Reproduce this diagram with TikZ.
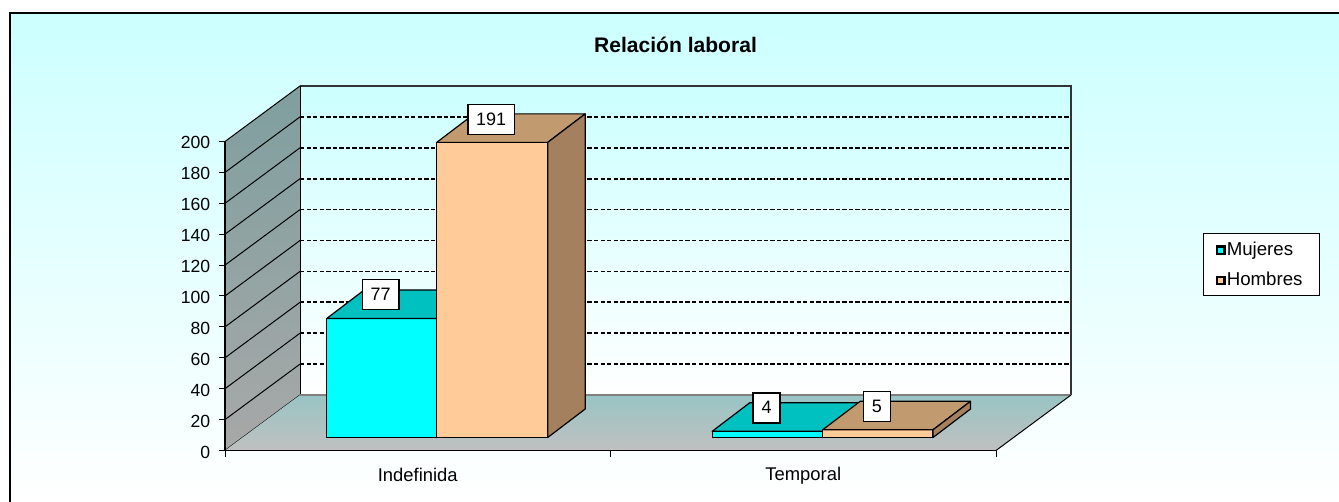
\documentclass[tikz,border=0pt]{standalone}
\usepackage{fontspec}
\setmainfont{Liberation Sans}
\definecolor{bgtop}{HTML}{CCFFFF}
\definecolor{lwtop}{HTML}{7F9F9F}
\definecolor{lwbot}{HTML}{A8A8A8}
\definecolor{flback}{HTML}{99C4C4}
\definecolor{flfront}{HTML}{C0C0C0}
\definecolor{mujfront}{HTML}{00FFFF}
\definecolor{mujtop}{HTML}{00C0C0}
\definecolor{mujside}{HTML}{009999}
\definecolor{homfront}{HTML}{FFCC99}
\definecolor{homtop}{HTML}{C19A70}
\definecolor{homside}{HTML}{A5805F}
\definecolor{walledge}{HTML}{333333}
\newcommand{\barthreed}[7]{%
  \pgfmathsetmacro\bartopy{#3-#4}%
  \filldraw[fill=#5, barline] (#1,#3) rectangle (#2,\bartopy);
  \filldraw[fill=#6, barline] (#1,\bartopy) -- (#1+37.5,\bartopy-28.5) -- (#2+37.5,\bartopy-28.5) -- (#2,\bartopy) -- cycle;
  \filldraw[fill=#7, barline] (#2,#3) -- (#2+37.5,#3-28.5) -- (#2+37.5,\bartopy-28.5) -- (#2,\bartopy) -- cycle;
}
\begin{document}
\begin{tikzpicture}[x=0.75pt,y=-0.75pt,
  barline/.style={draw=black, line width=0.9pt, line join=round},
  gridline/.style={black, line width=1.25pt, dash pattern=on 3.3pt off 1.6pt},
  thinline/.style={black, line width=0.75pt},
  axisline/.style={black, line width=1.2pt},
  axislabel/.style={font=\fontsize{13.2}{15}\selectfont, inner sep=0pt},
  catlabel/.style={font=\fontsize{13.8}{16}\selectfont, inner sep=0pt, anchor=base},
  datalabel/.style={draw=black, fill=white, line width=1.1pt, font=\fontsize{13.5}{15}\selectfont, inner xsep=6.3pt, inner ysep=0pt, minimum height=22.5pt},
  legendbox/.style={draw=black, fill=white, line width=0.75pt, minimum width=87pt, minimum height=46.5pt, inner sep=0pt},
  legmarker/.style={draw=black, line width=1.6pt, minimum size=5.6pt, inner sep=0pt},
  legtext/.style={font=\fontsize{14}{16}\selectfont, inner sep=0pt, anchor=base west}
]
\useasboundingbox (0,0) rectangle (1339,502);
\fill[white] (0,0) rectangle (1339,502);
% chart background and frame
\shade[top color=bgtop, bottom color=white] (9.5,13) rectangle (1339,502);
\draw[line width=1.5pt] (9.5,502) -- (9.5,13) -- (1339,13);
% title
\node[font=\bfseries\fontsize{15.8}{18}\selectfont, anchor=base, inner sep=0pt] (title) at (675.5,53) {Relación laboral};
% back wall
\shade[top color=bgtop, bottom color=white] (300,86) rectangle (1071,395);
\foreach \k in {1,...,9}
  \draw[gridline] (300,{395-\k*30.9}) -- (1071,{395-\k*30.9});
\draw[walledge, line width=1.3pt] (300,86) -- (1071,86) -- (1071,395);
% left wall
\shade[top color=lwtop, bottom color=lwbot] (225,450.5) -- (225,141.5) -- (300,86) -- (300,395) -- cycle;
\foreach \k in {0,...,10}
  \draw[thinline] (225,{450.5-\k*30.9}) -- (300,{395-\k*30.9});
\draw[thinline] (300,86) -- (300,395);
% floor
\shade[top color=flback, bottom color=flfront] (225,450.5) -- (300,395) -- (1071,395) -- (996,450.5) -- cycle;
\draw[gray, line width=1pt] (300,395) -- (1071,395);
\draw[thinline] (996,450.5) -- (1071,395);
% axes
\draw[axisline] (225,141.5) -- (225,450.5) -- (996,450.5);
\foreach \x in {225,610.5,996}
  \draw[thinline] (\x,450.5) -- (\x,456.5);
\foreach \k in {0,...,10}{
  \draw[thinline] (219,{450.5-\k*30.9}) -- (225,{450.5-\k*30.9});
  \pgfmathtruncatemacro\val{\k*20}
  \node[axislabel, anchor=base east] at (210.5,{450.5-\k*30.9+7.5}) {\val};
}
\node[catlabel] (cat1) at (417.75,481) {Indefinida};
\node[catlabel] (cat2) at (803.25,480) {Temporal};
% bars
\barthreed{326.7}{436.7}{437.5}{119.0}{mujfront}{mujtop}{mujside}
\barthreed{436.7}{547.7}{437.5}{295.1}{homfront}{homtop}{homside}
\barthreed{712.2}{822.7}{437.5}{6.2}{mujfront}{mujtop}{mujside}
\barthreed{822.7}{933.0}{437.5}{7.7}{homfront}{homtop}{homside}
% data labels
\node[datalabel] (d77) at (380.7,294.5) {77};
\node[datalabel] (d191) at (491.2,119.4) {191};
\node[datalabel] (d4) at (766.5,407.8) {4};
\node[datalabel] (d5) at (876.9,406.3) {5};
% legend
\node[legendbox] (leg) at (1261,265) {};
\node[legmarker, fill=mujfront] (m1) at (1220.7,250.3) {};
\node[legmarker, fill=homfront] (m2) at (1220.7,280.7) {};
\node[legtext] (t1) at (1226.5,256) {Mujeres};
\node[legtext] (t2) at (1226.5,286) {Hombres};
\end{tikzpicture}
\end{document}
